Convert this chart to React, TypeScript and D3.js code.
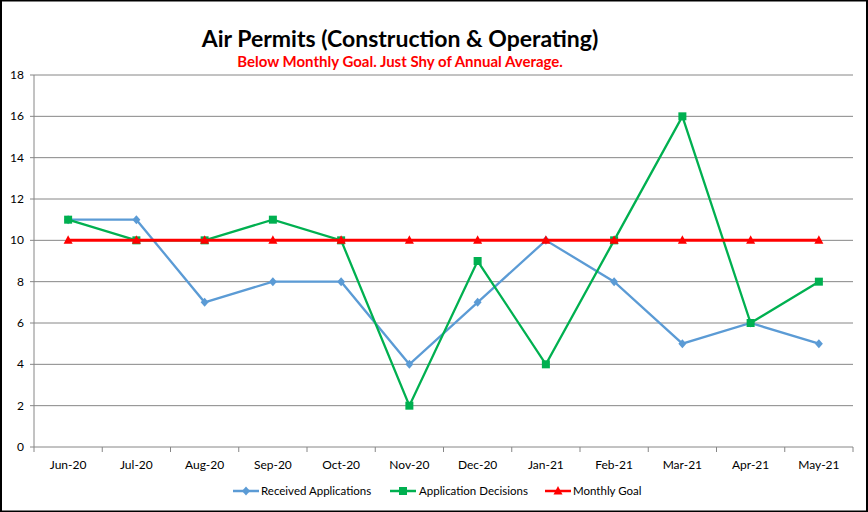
import React from "react";
import * as d3 from "d3";

const categories = ["Jun-20","Jul-20","Aug-20","Sep-20","Oct-20","Nov-20","Dec-20","Jan-21","Feb-21","Mar-21","Apr-21","May-21"];
const received = [11, 11, 7, 8, 8, 4, 7, 10, 8, 5, 6, 5];
const decisions = [11, 10, 10, 11, 10, 2, 9, 4, 10, 16, 6, 8];
const goal = [10, 10, 10, 10, 10, 10, 10, 10, 10, 10, 10, 10];
const yTicks = [0, 2, 4, 6, 8, 10, 12, 14, 16, 18];

const W = 868, H = 512;
const M = { left: 34, right: 853, top: 75, bottom: 447 };
const FONT = "Lato, 'Open Sans', sans-serif";

const seriesList = [
  { name: "Received Applications", values: received, color: "#5B9BD5", marker: "diamond" },
  { name: "Application Decisions", values: decisions, color: "#00B050", marker: "square" },
  { name: "Monthly Goal", values: goal, color: "#FF0000", marker: "triangle" },
];

function Marker({ type, x, y, color }: { type: string; x: number; y: number; color: string }) {
  if (type === "diamond") {
    return <path d={`M${x},${y - 4.5}L${x + 4},${y}L${x},${y + 4.5}L${x - 4},${y}Z`} fill={color} />;
  }
  if (type === "square") {
    return <rect x={x - 4} y={y - 4} width={8} height={8} fill={color} />;
  }
  return <path d={`M${x},${y - 5}L${x + 4.5},${y + 3.5}L${x - 4.5},${y + 3.5}Z`} fill={color} />;
}

export default function App() {
  const x = d3.scaleBand<string>().domain(categories).range([M.left, M.right]);
  const y = d3.scaleLinear().domain([0, 18]).range([M.bottom, M.top]);
  const cx = (c: string) => (x(c) as number) + x.bandwidth() / 2;
  const line = d3.line<number>().x((_, i) => cx(categories[i])).y((v) => y(v));

  const legendItems = [
    { lx: 233, tx: 261 },
    { lx: 390, tx: 419 },
    { lx: 545, tx: 573 },
  ];

  return (
    <svg width={W} height={H} style={{ position: "absolute", left: 0, top: 0, background: "#fff" }} fontFamily={FONT}>
      <rect x={0} y={0} width={W} height={H} fill="#fff" />
      <rect x={1} y={0.5} width={W - 2} height={H - 1} fill="none" stroke="#000" strokeWidth={2} />
      <text x={400} y={47} textAnchor="middle" fontSize={23} fontWeight="bold" fill="#000">Air Permits (Construction &amp; Operating)</text>
      <text x={400} y={67} textAnchor="middle" fontSize={15} fontWeight="bold" fill="#FF0000">Below Monthly Goal. Just Shy of Annual Average.</text>

      {yTicks.map((t) => (
        <g key={t}>
          <line x1={M.left - 4} x2={M.right} y1={y(t)} y2={y(t)} stroke="#868686" strokeWidth={1} />
          <text x={24} y={y(t) + 4} textAnchor="end" fontSize={12} fill="#000">{t}</text>
        </g>
      ))}
      <line x1={M.left} x2={M.left} y1={M.top} y2={M.bottom} stroke="#868686" />
      {categories.map((c, i) => (
        <line key={"t" + i} x1={x(c) as number} x2={x(c) as number} y1={M.bottom} y2={M.bottom + 5} stroke="#868686" />
      ))}
      <line x1={M.right} x2={M.right} y1={M.bottom} y2={M.bottom + 5} stroke="#868686" />
      {categories.map((c) => (
        <text key={c} x={cx(c)} y={469} textAnchor="middle" fontSize={12} fill="#000">{c}</text>
      ))}

      {seriesList.map((s) => (
        <g key={s.name}>
          <path d={line(s.values) as string} fill="none" stroke={s.color} strokeWidth={s.marker === "triangle" ? 3 : 2.3} />
          {s.values.map((v, i) => (
            <Marker key={i} type={s.marker} x={cx(categories[i])} y={y(v)} color={s.color} />
          ))}
        </g>
      ))}

      {seriesList.map((s, i) => (
        <g key={"lg" + i}>
          <line x1={legendItems[i].lx} x2={legendItems[i].lx + 26} y1={491} y2={491} stroke={s.color} strokeWidth={2.5} />
          <Marker type={s.marker} x={legendItems[i].lx + 13} y={491} color={s.color} />
          <text x={legendItems[i].tx} y={495} fontSize={11.5} fill="#000">{s.name}</text>
        </g>
      ))}
    </svg>
  );
}
